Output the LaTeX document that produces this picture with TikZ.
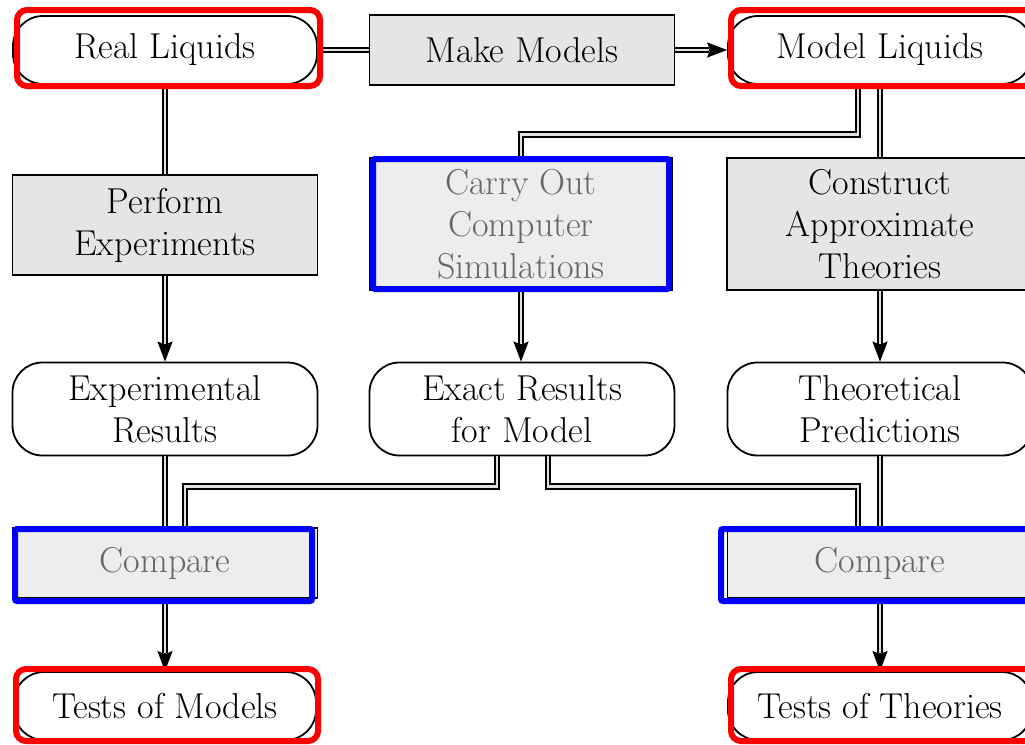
\documentclass[tikz,border=0pt]{standalone}
\usetikzlibrary{arrows.meta,calc}
\begin{document}
\begin{tikzpicture}[x=1pt,y=-1pt,
 base/.style={draw=black, line width=1.8pt, align=center, font=\fontsize{36}{42}\selectfont, inner sep=0pt},
 term/.style={base, rounded corners=30pt, fill=white},
 proc/.style={base, fill=black!10},
 faded/.style={base, fill=black!7, text=black!60},
 dbl/.style={draw=black, double=black!12, double distance=2.8pt, line width=2pt, line join=miter},
 tip/.style={-{Stealth[length=20pt,width=15pt,inset=3pt]}, line width=2pt},
 redhl/.style={draw=red, line width=6pt, rounded corners=10pt},
 bluehl/.style={draw=blue, line width=6pt, rounded corners=2pt}]
\useasboundingbox (0,0) rectangle (1025,744);
% nodes
\node[term, minimum width=304pt, minimum height=68pt] (rl) at (165,50) {Real Liquids};
\node[proc, minimum width=305pt, minimum height=70pt] (mm) at (522,50) {Make Models};
\node[term, minimum width=304pt, minimum height=68pt] (ml) at (880,50) {Model Liquids};
\node[proc, minimum width=305pt, minimum height=100pt] (pe) at (165,225) {Perform\\Experiments};
\node[faded, minimum width=302pt, minimum height=132pt] (cs) at (521,224) {Carry Out\\Computer\\Simulations};
\node[proc, minimum width=306pt, minimum height=132pt] (ca) at (880,224) {Construct\\Approximate\\Theories};
\node[term, minimum width=305pt, minimum height=93pt] (er) at (165,409) {Experimental\\Results};
\node[term, minimum width=305pt, minimum height=93pt] (ex) at (522,409) {Exact Results\\for Model};
\node[term, minimum width=305pt, minimum height=93pt] (tp) at (880,409) {Theoretical\\Predictions};
\node[faded, minimum width=305pt, minimum height=70pt] (cl) at (165,563) {Compare};
\node[faded, minimum width=305pt, minimum height=70pt] (cr) at (880,563) {Compare};
\node[term, minimum width=302pt, minimum height=68pt] (tm) at (165,706) {Tests of Models};
\node[term, minimum width=304pt, minimum height=68pt] (tt) at (880,706) {Tests of Theories};
% connectors
\draw[dbl] (rl.east) -- (mm.west);
\draw[tip] (mm.east) -- (ml.west);
\draw[dbl, shorten >=18pt] (mm.east) -- (ml.west);
\draw[dbl] (rl.south) -- (pe.north);
\draw[tip] (pe.south) -- (er.north);
\draw[dbl, shorten >=18pt] (pe.south) -- (er.north);
\draw[dbl] (ml.south) -- (ca.north);
\draw[dbl] ([xshift=-22pt]ml.south) |- ([yshift=23pt]cs.north) -- (cs.north);
\draw[tip] (ca.south) -- (tp.north);
\draw[dbl, shorten >=18pt] (ca.south) -- (tp.north);
\draw[tip] (cs.south) -- (cs.south |- ex.north);
\draw[dbl, shorten >=18pt] (cs.south) -- (cs.south |- ex.north);
\draw[dbl] (er.south) -- (cl.north);
\draw[dbl] ([xshift=-25pt]ex.south) |- ([xshift=20pt,yshift=41pt]cl.north) -- ([xshift=20pt]cl.north);
\draw[dbl] ([xshift=26pt]ex.south) |- ([xshift=-22pt,yshift=41pt]cr.north) -- ([xshift=-22pt]cr.north);
\draw[dbl] (tp.south) -- (cr.north);
\draw[tip] (cl.south) -- (tm.north);
\draw[dbl, shorten >=18pt] (cl.south) -- (tm.north);
\draw[tip] (cr.south) -- (tt.north);
\draw[dbl, shorten >=18pt] (cr.south) -- (tt.north);
% highlights
\draw[redhl] (17,10) rectangle (320,86);
\draw[redhl] (731,10) rectangle (1034,86);
\draw[bluehl] (373,159) rectangle (669,289);
\draw[bluehl] (15,529) rectangle (312,601);
\draw[bluehl] (721,529) rectangle (1034,601);
\draw[redhl] (16,669) rectangle (318,741);
\draw[redhl] (731,669) rectangle (1034,741);
\end{tikzpicture}
\end{document}
